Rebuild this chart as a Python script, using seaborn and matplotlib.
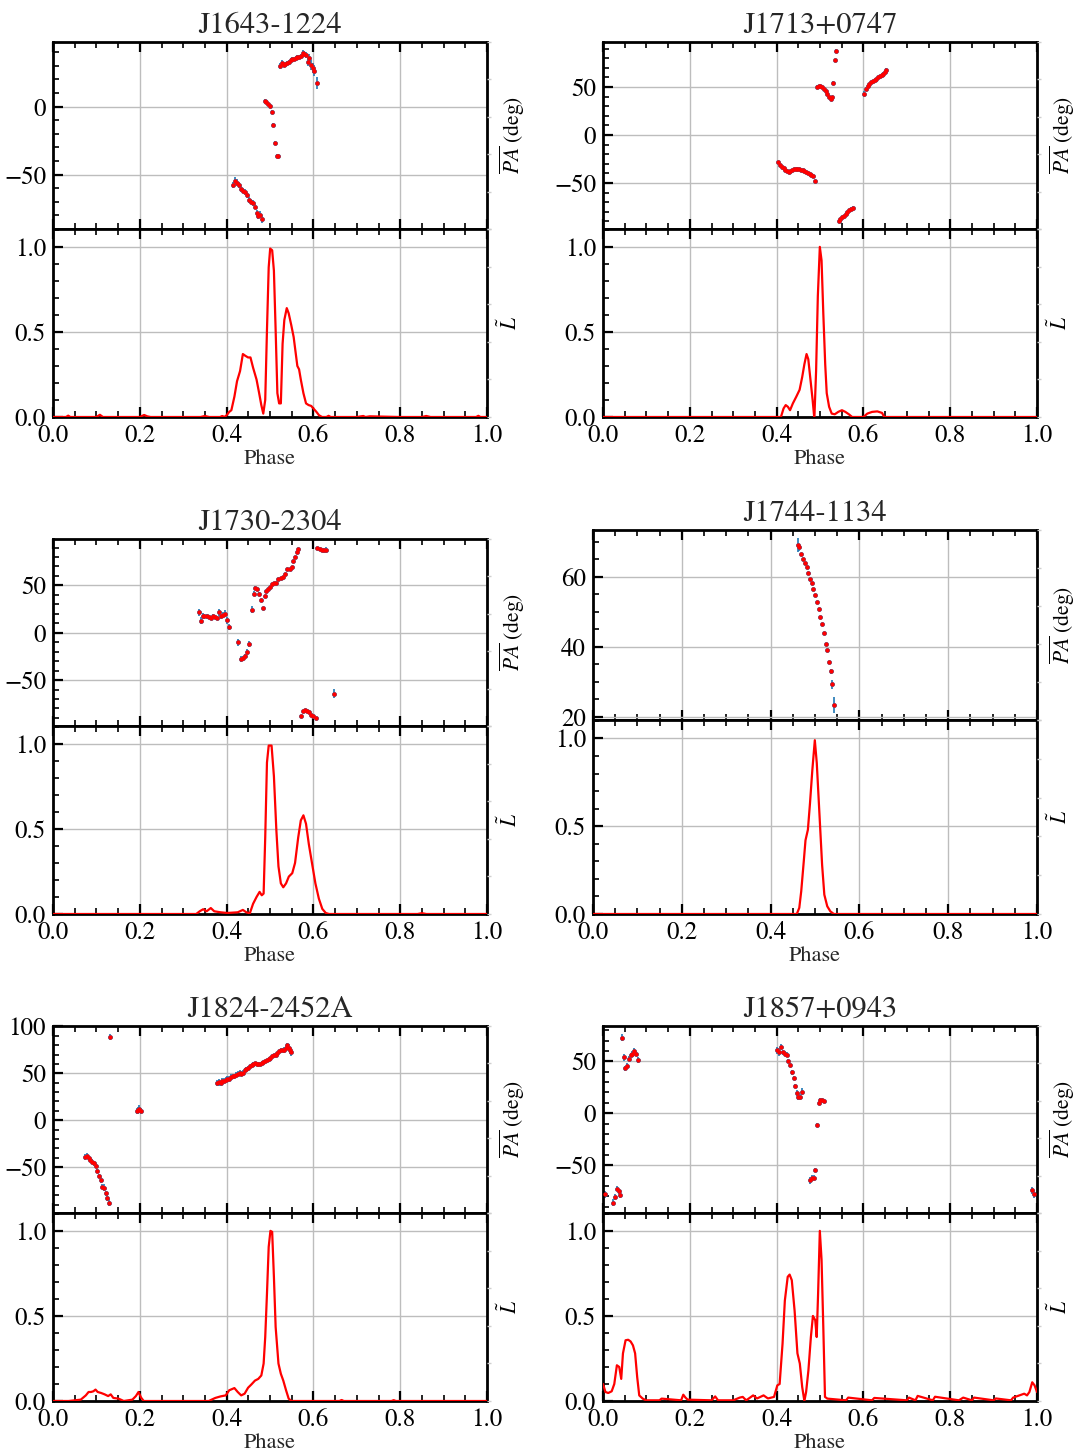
import matplotlib
matplotlib.use("Agg")
import matplotlib.pyplot as plt
from matplotlib.ticker import MultipleLocator, AutoMinorLocator, FormatStrFormatter
import pandas as pd
import seaborn as sns

# ---------------------------------------------------------------- data
NAMES = ["J1643-1224", "J1713+0747", "J1730-2304",
         "J1744-1134", "J1824-2452A", "J1857+0943"]

# position angle swings (phase, PA in deg, PA error in deg)
J1643_PA_PHASE = [0.4137, 0.419, 0.424, 0.428, 0.4336, 0.438, 0.443, 0.448, 0.4527, 0.4566,
                  0.4606, 0.4654, 0.469, 0.4733, 0.477, 0.481,
                  0.4877, 0.4916, 0.4956, 0.4996, 0.504, 0.508, 0.512, 0.517, 0.5195,
                  0.5227, 0.5274, 0.5314, 0.5354, 0.5394, 0.5434, 0.5473, 0.5513, 0.555, 0.559,
                  0.563, 0.567, 0.571, 0.575, 0.579, 0.583, 0.587, 0.591, 0.595, 0.599, 0.602, 0.609]
J1643_PA = [-57.6, -54.6, -55.9, -57.8, -60.5, -61.7, -62.7, -64.9, -68.6, -69.8,
            -71.0, -73.5, -78.4, -80.4, -79.6, -82.8,
            3.9, 3.4, 2.0, 0.5, -3.7, -13.5, -26.7, -36.0, -36.0,
            29.9, 31.9, 30.6, 31.1, 31.9, 32.6, 34.3, 35.0, 35.0, 35.5,
            36.3, 36.8, 37.2, 39.7, 38.7, 38.0, 33.1, 35.5, 30.6, 28.2, 26.5, 17.2]
J1643_PA_ERR = [2.5, 3.0, 2.5, 2.0, 2.0, 2.0, 2.0, 2.0, 2.0, 2.0,
                2.0, 2.0, 2.5, 2.5, 2.5, 3.0,
                1.5, 1.5, 1.5, 1.5, 1.5, 1.2, 1.2, 1.5, 1.5,
                2.5, 2.0, 1.5, 1.5, 1.5, 1.5, 1.5, 1.5, 1.5, 1.5,
                1.5, 1.5, 1.5, 2.0, 2.5, 2.5, 3.0, 3.0, 3.5, 3.5, 4.0, 4.5]

J1713_PA_PHASE = [0.404, 0.408, 0.412, 0.416, 0.42, 0.424, 0.428, 0.432, 0.436, 0.44,
                  0.444, 0.448, 0.452, 0.456, 0.46, 0.464, 0.468, 0.472, 0.476, 0.48,
                  0.483, 0.488,
                  0.493, 0.497, 0.501, 0.505, 0.509, 0.513, 0.517, 0.521, 0.525, 0.528,
                  0.531, 0.534, 0.538,
                  0.543, 0.547, 0.551, 0.555, 0.559, 0.563, 0.567, 0.571, 0.575,
                  0.602, 0.606, 0.61, 0.614, 0.618, 0.622, 0.626, 0.63, 0.634, 0.638,
                  0.642, 0.646, 0.65, 0.652]
J1713_PA = [-28.6, -31.7, -33.4, -34.8, -36.2, -37.3, -38.3, -38.0, -36.6, -35.5,
            -35.2, -35.2, -35.5, -36.2, -36.9, -38.0, -39.0, -40.1, -41.1, -42.2,
            -43.2, -48.4,
            50.2, 50.9, 51.2, 50.2, 48.1, 45.6, 43.2, 39.7, 38.0, 39.7,
            54.4, 78.0, 88.1,
            -89.5, -87.8, -85.7, -84.0, -82.2, -80.5, -78.7, -77.0, -75.6,
            42.9, 48.1, 50.9, 53.3, 55.4, 56.8, 57.8, 58.9, 60.3, 61.3,
            62.4, 64.1, 65.8, 67.6]
J1713_PA_ERR = [2.0, 1.5, 1.0, 0.8, 0.8, 0.6, 0.6, 0.6, 0.6, 0.6,
                0.6, 0.6, 0.6, 0.6, 0.6, 0.6, 0.6, 0.6, 0.8, 1.0,
                1.5, 2.0,
                1.5, 1.0, 0.6, 0.6, 0.6, 0.6, 0.6, 1.0, 1.5, 1.5,
                1.5, 1.5, 1.5,
                1.5, 1.0, 0.8, 0.8, 0.8, 0.8, 1.0, 1.5, 2.0,
                3.0, 2.0, 1.5, 1.0, 0.8, 0.8, 0.8, 0.8, 0.8, 0.8,
                1.0, 1.5, 1.5, 2.0]

J1730_PA_PHASE = [0.3365, 0.3405, 0.3445, 0.349, 0.354, 0.359, 0.3636, 0.368, 0.373, 0.378,
                  0.3827, 0.387, 0.392, 0.396, 0.4017, 0.4065, 0.4256, 0.4336, 0.438, 0.443,
                  0.4475, 0.4527, 0.4574, 0.462, 0.466, 0.4702, 0.475, 0.4797, 0.4845, 0.4877,
                  0.4916, 0.4956, 0.4996, 0.5044, 0.509, 0.513, 0.5195, 0.525, 0.5306, 0.5354,
                  0.539, 0.545, 0.5497, 0.5537, 0.5577, 0.5617, 0.5656,
                  0.5704, 0.575, 0.58, 0.5847, 0.5895, 0.594, 0.599, 0.605,
                  0.609, 0.615, 0.62, 0.6245, 0.629, 0.648]
J1730_PA = [21.5, 12.7, 18.0, 17.3, 17.3, 16.5, 15.5, 17.3, 16.5, 15.5,
            21.5, 17.3, 19.0, 20.1, 13.0, 6.0, -10.2, -27.8, -26.8, -25.0,
            -20.4, -12.0, 24.3, 41.2, 47.2, 46.1, 41.2, 34.2, 26.1, 38.4,
            43.7, 46.1, 48.2, 51.4, 52.5, 52.5, 56.7, 57.7, 58.8, 62.3,
            67.3, 67.3, 69.0, 75.4, 79.9, 85.2, 88.4,
            -87.7, -83.1, -81.3, -82.4, -84.2, -86.6, -88.4, -90.1,
            89.4, 88.7, 87.7, 87.0, 87.7, -64.4]
J1730_PA_ERR = [4.0, 3.5, 3.0, 3.0, 2.5, 2.5, 2.5, 2.5, 2.5, 2.5,
                3.5, 2.5, 3.0, 3.5, 3.5, 3.5, 4.0, 3.0, 2.5, 2.5,
                3.0, 3.5, 3.5, 2.5, 2.0, 1.5, 1.5, 1.5, 1.5, 1.5,
                1.2, 1.2, 1.2, 1.2, 1.2, 1.2, 1.2, 1.2, 1.2, 1.2,
                1.2, 1.2, 1.2, 1.2, 1.2, 1.2, 1.2,
                1.2, 1.2, 1.2, 1.2, 1.2, 1.2, 1.2, 1.5,
                1.5, 2.0, 2.0, 2.5, 3.0, 4.5]

J1744_PA_PHASE = [0.4607, 0.4646, 0.469, 0.473, 0.477, 0.481, 0.485, 0.489, 0.4926, 0.4965,
                  0.5004, 0.504, 0.508, 0.512, 0.516, 0.52, 0.5237, 0.5276, 0.5315, 0.5354,
                  0.539, 0.543]
J1744_PA = [69.2, 68.4, 66.5, 65.2, 64.0, 62.7, 61.2, 59.5, 58.1, 56.5,
            54.8, 52.9, 50.8, 48.6, 46.4, 43.8, 40.8, 38.9, 35.5, 32.9,
            29.2, 23.3]
J1744_PA_ERR = [2.0, 1.0, 0.4, 0.3, 0.3, 0.3, 0.3, 0.2, 0.2, 0.2,
                0.2, 0.2, 0.2, 0.2, 0.3, 0.3, 0.3, 0.4, 0.5, 0.8,
                1.3, 2.2]

J1824_PA_PHASE = [0.074, 0.078, 0.082, 0.086, 0.09, 0.094, 0.098, 0.102, 0.106, 0.11,
                  0.114, 0.118, 0.121, 0.125, 0.128, 0.131,
                  0.1925, 0.1965, 0.199, 0.203,
                  0.378, 0.382, 0.386, 0.39, 0.394, 0.398, 0.402, 0.406, 0.41, 0.414,
                  0.418, 0.422, 0.4256, 0.43, 0.4336, 0.4375, 0.4415, 0.4455, 0.4495, 0.4535,
                  0.4574, 0.4614, 0.4654, 0.469, 0.473, 0.477, 0.481, 0.485, 0.489, 0.493,
                  0.497, 0.501, 0.505, 0.509, 0.513, 0.517, 0.521, 0.525, 0.529, 0.533,
                  0.537, 0.539, 0.543, 0.5465, 0.549]
J1824_PA = [-39.0, -37.9, -40.8, -42.6, -44.3, -46.1, -48.6, -54.3, -59.6, -63.8,
            -70.9, -72.0, -78.0, -83.3, -87.9, 88.7,
            9.6, 10.6, 12.1, 9.9,
            39.7, 40.4, 39.7, 41.5, 41.8, 43.3, 44.3, 44.0, 46.1, 46.8,
            46.8, 47.9, 49.6, 50.7, 49.6, 50.7, 53.2, 54.3, 55.7, 57.4,
            58.5, 60.3, 61.0, 59.6, 59.6, 60.3, 61.3, 62.1, 63.1, 64.5,
            65.6, 66.7, 68.1, 69.1, 69.9, 71.6, 73.4, 74.5, 74.5, 75.2,
            77.3, 79.8, 77.3, 74.5, 72.7]
J1824_PA_ERR = [3.0, 2.5, 2.5, 2.5, 2.5, 2.5, 2.5, 2.5, 2.5, 3.0,
                3.0, 3.5, 3.0, 3.0, 3.5, 3.0,
                3.0, 3.5, 4.0, 3.5,
                3.5, 4.0, 3.5, 3.5, 3.0, 3.0, 3.0, 3.0, 3.0, 3.0,
                3.0, 3.0, 2.5, 2.5, 2.5, 2.5, 2.0, 2.0, 2.0, 1.5,
                1.5, 1.5, 1.5, 1.5, 1.5, 1.5, 1.5, 1.5, 1.5, 1.2,
                1.2, 1.2, 1.2, 1.5, 1.5, 1.5, 1.5, 2.0, 2.0, 2.5,
                2.5, 3.0, 3.5, 3.5, 4.5]

J1857_PA_PHASE = [0.004, 0.024, 0.028, 0.032, 0.036, 0.04, 0.0438, 0.0477, 0.0517, 0.0557,
                  0.0597, 0.0636, 0.0676, 0.0716, 0.0756, 0.0796,
                  0.4017, 0.4057, 0.4097, 0.4145, 0.419, 0.423, 0.427, 0.431, 0.435, 0.439,
                  0.443, 0.446, 0.45, 0.4535, 0.4575,
                  0.477, 0.481, 0.486, 0.489, 0.493, 0.497, 0.501, 0.505, 0.509,
                  0.989, 0.994]
J1857_PA = [-78.0, -85.9, -80.5, -72.5, -75.1, -78.3, 72.8, 53.7, 43.1, 45.7,
            52.7, 55.9, 57.5, 60.1, 57.5, 51.4,
            60.7, 59.1, 63.9, 58.5, 57.5, 56.2, 50.5, 46.6, 39.3, 33.9,
            25.9, 19.5, 15.3, 16.0, 20.8,
            -64.5, -62.0, -62.0, -54.3, -11.2, 9.6, 12.8, 12.8, 11.5,
            -74.1, -78.0]
J1857_PA_ERR = [3.5, 3.5, 3.0, 2.5, 2.5, 3.0, 3.5, 3.0, 2.5, 2.5,
                2.0, 2.0, 2.0, 2.5, 2.5, 3.0,
                3.5, 3.5, 3.0, 2.5, 2.5, 2.5, 2.0, 2.0, 2.0, 2.0,
                2.0, 2.5, 2.5, 3.0, 3.5,
                3.5, 3.0, 2.5, 2.0, 1.5, 1.5, 1.5, 1.5, 2.0,
                3.5, 4.0]

# normalised linear polarisation profiles (phase, L)
J1643_L_PHASE = [0.0, 0.03, 0.035, 0.04, 0.10, 0.108, 0.115, 0.2, 0.21, 0.217, 0.225, 0.3,
                 0.34, 0.35, 0.36, 0.385, 0.39, 0.395,
                 0.4, 0.406, 0.411, 0.418, 0.424, 0.431, 0.4375, 0.443, 0.4495, 0.455,
                 0.461, 0.469, 0.475, 0.48, 0.4845, 0.489, 0.493, 0.497, 0.5004, 0.505,
                 0.509, 0.513, 0.517, 0.521, 0.525, 0.529, 0.533, 0.5386, 0.543, 0.549,
                 0.5545, 0.559, 0.563, 0.567, 0.571, 0.577, 0.583, 0.589, 0.595, 0.6,
                 0.607, 0.613, 0.62, 0.63, 0.635, 0.64, 0.7, 0.715, 0.72, 0.73, 0.8,
                 0.85, 0.86, 0.87, 0.93, 0.975, 0.98, 0.985, 1.0]
J1643_L = [0.0, 0.0, 0.008, 0.0, 0.0, 0.013, 0.0, 0.0, 0.012, 0.004, 0.0, 0.0,
           0.0, 0.006, 0.0, 0.0, 0.006, 0.0,
           0.01, 0.03, 0.04, 0.12, 0.21, 0.27, 0.37, 0.36, 0.35, 0.35,
           0.29, 0.22, 0.14, 0.07, 0.02, 0.10, 0.51, 0.88, 0.99, 0.98,
           0.86, 0.51, 0.14, 0.08, 0.08, 0.43, 0.57, 0.64, 0.61, 0.54,
           0.47, 0.38, 0.30, 0.28, 0.22, 0.14, 0.08, 0.07, 0.065, 0.05,
           0.03, 0.01, 0.0, 0.0, 0.007, 0.0, 0.0, 0.006, 0.0, 0.004, 0.0,
           0.0, 0.006, 0.0, 0.0, 0.0, 0.007, 0.0, 0.0]

J1713_L_PHASE = [0.0, 0.41, 0.416, 0.421, 0.426, 0.431, 0.4375, 0.4455, 0.453, 0.459,
                 0.464, 0.469, 0.473, 0.478, 0.483, 0.487, 0.491, 0.495, 0.4996, 0.5036,
                 0.5076, 0.512, 0.5155, 0.521, 0.527, 0.534, 0.542, 0.5505, 0.5585, 0.5665,
                 0.574, 0.6, 0.609, 0.62, 0.632, 0.643, 0.648, 1.0]
J1713_L = [0.0, 0.0, 0.05, 0.07, 0.06, 0.04, 0.08, 0.12, 0.16, 0.235,
           0.31, 0.37, 0.34, 0.22, 0.10, -0.01, 0.27, 0.71, 1.0, 0.92,
           0.61, 0.31, 0.14, 0.06, 0.02, 0.016, 0.03, 0.04, 0.03, 0.016,
           0.0, 0.0, 0.02, 0.03, 0.033, 0.024, 0.0, 0.0]

J1730_L_PHASE = [0.0, 0.33, 0.338, 0.346, 0.354, 0.3636, 0.3715, 0.386, 0.4017, 0.4256,
                 0.4375, 0.4455, 0.4535, 0.461, 0.469, 0.476, 0.481, 0.4853, 0.489, 0.493,
                 0.497, 0.5036, 0.509, 0.5147, 0.5195, 0.525, 0.5306, 0.537, 0.5434, 0.5513,
                 0.5577, 0.565, 0.571, 0.577, 0.583, 0.5895, 0.5967, 0.6046, 0.6126, 0.6205,
                 0.6285, 0.636, 0.84, 0.85, 0.86, 1.0]
J1730_L = [0.0, 0.0, 0.016, 0.028, 0.016, 0.035, 0.016, 0.01, 0.006, 0.01,
           0.024, 0.01, 0.004, 0.06, 0.10, 0.13, 0.11, 0.12, 0.45, 0.89,
           0.99, 0.99, 0.81, 0.49, 0.28, 0.18, 0.157, 0.18, 0.22, 0.24,
           0.30, 0.45, 0.55, 0.58, 0.53, 0.41, 0.30, 0.18, 0.09, 0.03,
           0.006, 0.0, 0.0, 0.005, 0.0, 0.0]

J1744_L_PHASE = [0.0, 0.459, 0.4646, 0.469, 0.4747, 0.4786, 0.484, 0.4887, 0.494, 0.4996,
                 0.504, 0.51, 0.516, 0.521, 0.5276, 0.5346, 0.5424, 1.0]
J1744_L = [0.0, 0.0, 0.035, 0.13, 0.30, 0.42, 0.48, 0.63, 0.82, 0.99,
           0.86, 0.57, 0.28, 0.11, 0.044, 0.015, 0.0, 0.0]

J1824_L_PHASE = [0.0, 0.036, 0.064, 0.0756, 0.082, 0.0875, 0.093, 0.098, 0.103, 0.111,
                 0.119, 0.127, 0.133, 0.139, 0.151, 0.163, 0.183, 0.191, 0.197, 0.203,
                 0.209, 0.36, 0.362, 0.374, 0.386, 0.398, 0.406, 0.418, 0.4256, 0.4336,
                 0.4415, 0.4495, 0.4574, 0.4654, 0.473, 0.48, 0.4853, 0.489, 0.493, 0.497,
                 0.501, 0.505, 0.509, 0.513, 0.5195, 0.525, 0.5306, 0.537, 0.543, 0.549,
                 0.66, 0.665, 0.67, 0.78, 0.785, 0.79, 1.0]
J1824_L = [0.0, 0.0, 0.008, 0.033, 0.053, 0.053, 0.057, 0.067, 0.053, 0.047,
           0.039, 0.029, 0.039, 0.018, 0.014, 0.0, 0.008, 0.029, 0.053, 0.02,
           0.0, 0.0, 0.004, 0.018, 0.027, 0.033, 0.063, 0.076, 0.053, 0.033,
           0.043, 0.078, 0.098, 0.12, 0.13, 0.15, 0.22, 0.376, 0.63, 0.906,
           1.0, 0.994, 0.73, 0.435, 0.22, 0.16, 0.12, 0.063, 0.014, 0.0,
           0.0, 0.006, 0.0, 0.0, 0.005, 0.0, 0.0]

J1857_L_PHASE = [0.0, 0.0056, 0.012, 0.02, 0.026, 0.032, 0.0374, 0.042, 0.046, 0.052,
                 0.058, 0.0636, 0.069, 0.074, 0.0788, 0.0835, 0.0915, 0.099, 0.13, 0.135,
                 0.18, 0.185, 0.19, 0.195, 0.25, 0.2585, 0.265, 0.3, 0.315, 0.322,
                 0.33, 0.346, 0.355, 0.37, 0.38, 0.394, 0.4017, 0.407, 0.4137, 0.419,
                 0.4256, 0.43, 0.435, 0.4415, 0.448, 0.4535, 0.459, 0.464, 0.468, 0.4733,
                 0.479, 0.4837, 0.489, 0.4924, 0.4956, 0.4996, 0.5036, 0.5076, 0.5115, 0.517,
                 0.56, 0.565, 0.62, 0.625, 0.7, 0.705, 0.72, 0.725, 0.76, 0.765,
                 0.82, 0.83, 0.85, 0.855, 0.9, 0.905, 0.94, 0.945, 0.9706, 0.977,
                 0.9825, 0.989, 0.9944, 1.0]
J1857_L = [0.10, 0.053, 0.047, 0.057, 0.10, 0.21, 0.20, 0.13, 0.28, 0.357,
           0.36, 0.35, 0.327, 0.28, 0.14, 0.033, 0.014, 0.004, 0.004, 0.014,
           0.004, 0.037, 0.02, 0.008, 0.004, 0.027, 0.004, 0.004, 0.02, 0.024,
           0.004, 0.033, 0.015, 0.033, 0.015, 0.024, 0.092, 0.10, 0.337, 0.59,
           0.73, 0.743, 0.71, 0.53, 0.28, 0.22, 0.082, 0.0, 0.053, 0.18,
           0.376, 0.50, 0.475, 0.376, 0.63, 1.0, 0.83, 0.435, 0.024, 0.014,
           0.004, 0.02, 0.004, 0.018, 0.004, 0.02, 0.004, 0.03, 0.004, 0.025,
           0.004, 0.02, 0.004, 0.02, 0.004, 0.015, 0.004, 0.02, 0.043, 0.033,
           0.053, 0.11, 0.092, 0.053]

PA_SERIES = [
    (J1643_PA_PHASE, J1643_PA, J1643_PA_ERR),
    (J1713_PA_PHASE, J1713_PA, J1713_PA_ERR),
    (J1730_PA_PHASE, J1730_PA, J1730_PA_ERR),
    (J1744_PA_PHASE, J1744_PA, J1744_PA_ERR),
    (J1824_PA_PHASE, J1824_PA, J1824_PA_ERR),
    (J1857_PA_PHASE, J1857_PA, J1857_PA_ERR),
]
L_SERIES = [
    (J1643_L_PHASE, J1643_L),
    (J1713_L_PHASE, J1713_L),
    (J1730_L_PHASE, J1730_L),
    (J1744_L_PHASE, J1744_L),
    (J1824_L_PHASE, J1824_L),
    (J1857_L_PHASE, J1857_L),
]
PA_LIMITS = [(-90, 47.5), (-98, 97), (-98.5, 99), (19.0, 73.4), (-99, 100.5), (-96, 84)]
PA_STEPS = [50, 50, 50, 20, 50, 50]

# ---------------------------------------------------------------- style
sns.set_theme(style="ticks")
plt.rcParams["font.family"] = ["STIXGeneral", "DejaVu Serif"]
plt.rcParams["mathtext.fontset"] = "stix"
plt.rcParams["axes.unicode_minus"] = True

W, H = 1080, 1454
fig = plt.figure(figsize=(W / 100, H / 100), dpi=100)

# panel frames in pixels: (left, right, top, boundary, bottom)
FRAMES = [
    (53, 487, 42, 229, 417),
    (603, 1037, 42, 229, 417),
    (53, 487, 539, 726, 914),
    (593, 1037, 530, 720, 914),
    (53, 487, 1026, 1213, 1401),
    (603, 1037, 1026, 1213, 1401),
]

GRID_KW = dict(color="#bdbdbd", lw=1.0)


def style_axis(ax):
    for s in ax.spines.values():
        s.set_linewidth(2.0)
        s.set_color("black")
    ax.tick_params(which="both", direction="in", top=True, right=True,
                   labelsize=18, colors="black", pad=5)
    ax.tick_params(which="major", length=7, width=1.6)
    ax.tick_params(which="minor", length=4, width=1.2)
    ax.xaxis.set_major_locator(MultipleLocator(0.2))
    ax.xaxis.set_minor_locator(AutoMinorLocator())
    ax.yaxis.set_minor_locator(AutoMinorLocator())
    ax.set_axisbelow(True)
    ax.grid(True, which="major", **GRID_KW)
    ax.set_xlim(0, 1)


def right_label(ax, text):
    tw = ax.twinx()
    tw.set_ylim(0, 1)
    tw.yaxis.set_major_locator(MultipleLocator(0.2))
    tw.set_yticklabels([])
    tw.tick_params(axis="y", direction="out", length=3, width=1.0, pad=0,
                   colors="#cfcfcf", right=True, left=False)
    tw.set_ylabel(text, fontsize=15.5, color="black", labelpad=5)
    for s in tw.spines.values():
        s.set_visible(False)
    return tw


for i, name in enumerate(NAMES):
    left, right, top, mid, bot = FRAMES[i]
    x0, w = left / W, (right - left) / W
    ax_pa = fig.add_axes([x0, 1 - mid / H, w, (mid - top) / H])
    ax_l = fig.add_axes([x0, 1 - bot / H, w, (bot - mid) / H])

    # polarisation position angle: blue error bars under red points
    ph, pa, err = PA_SERIES[i]
    df_pa = pd.DataFrame({"phase": ph, "pa": pa, "err": err})
    ax_pa.errorbar(df_pa["phase"], df_pa["pa"], yerr=df_pa["err"], fmt="o",
                   ms=3.5, mfc="#1f77b4", mec="none", ecolor="#1f77b4",
                   elinewidth=1.2, capsize=0, zorder=2)
    sns.scatterplot(data=df_pa, x="phase", y="pa", ax=ax_pa, color="red",
                    s=10, linewidth=0, zorder=3, legend=False)
    style_axis(ax_pa)
    ax_pa.set_ylim(*PA_LIMITS[i])
    ax_pa.yaxis.set_major_locator(MultipleLocator(PA_STEPS[i]))
    ax_pa.yaxis.set_minor_locator(AutoMinorLocator())
    ax_pa.tick_params(labelbottom=False)
    ax_pa.set_xlabel("")
    ax_pa.set_ylabel("")
    ax_pa.set_title(name, fontsize=22, pad=6.5)
    right_label(ax_pa, r"$\overline{PA}$ (deg)")

    # linear polarisation profile
    lph, lval = L_SERIES[i]
    df_l = pd.DataFrame({"phase": lph, "L": lval})
    sns.lineplot(data=df_l, x="phase", y="L", ax=ax_l, color="red", lw=1.6,
                 estimator=None, sort=False, zorder=3)
    style_axis(ax_l)
    ax_l.set_ylim(0, 1.105)
    ax_l.yaxis.set_major_locator(MultipleLocator(0.5))
    ax_l.yaxis.set_minor_locator(AutoMinorLocator())
    ax_l.xaxis.set_major_formatter(FormatStrFormatter("%.1f"))
    ax_l.yaxis.set_major_formatter(FormatStrFormatter("%.1f"))
    ax_l.set_xlabel("Phase", fontsize=16, labelpad=1)
    ax_l.set_ylabel("")
    right_label(ax_l, r"$\tilde{L}$")

fig.savefig("out.png", dpi=100)
